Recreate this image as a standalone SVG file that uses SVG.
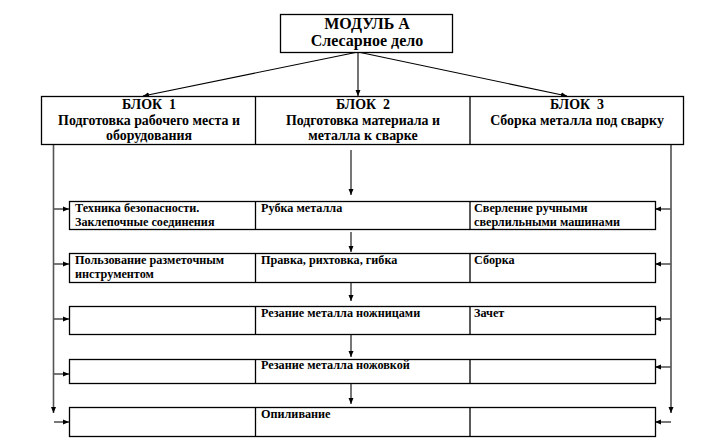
<svg xmlns="http://www.w3.org/2000/svg" width="720" height="447" viewBox="0 0 720 447">
<style>
.box{fill:#fff;stroke:#000;stroke-width:1.3}
.div{stroke:#000;stroke-width:1.3}
.t{font-family:"Liberation Serif","Times New Roman",serif;font-weight:bold;fill:#000}
.h1{font-size:16px}
.h2{font-size:13.9px;white-space:pre}
.r{font-size:12.2px}
.c{stroke:#000;stroke-width:1.1;fill:none}
.g{stroke:#555;stroke-width:1.6;fill:none}
</style>
<defs>
<marker id="ah" viewBox="0 0 6 6" refX="6" refY="3" markerWidth="6" markerHeight="6" markerUnits="userSpaceOnUse" orient="auto">
<path d="M0,0.5 L6,3 L0,5.5 Z" fill="#000"/>
</marker>
</defs>
<rect width="720" height="447" fill="#fff"/>
<g id="connectors">
<line class="c" x1="358" y1="52" x2="143" y2="96" marker-end="url(#ah)"/>
<line class="c" x1="358" y1="52" x2="358" y2="96" marker-end="url(#ah)"/>
<line class="c" x1="358" y1="52" x2="567" y2="96" marker-end="url(#ah)"/>
<line class="g" x1="351" y1="150" x2="351" y2="195" marker-end="url(#ah)"/>
<line class="g" x1="351" y1="232" x2="351" y2="252" marker-end="url(#ah)"/>
<line class="g" x1="351" y1="283" x2="351" y2="301" marker-end="url(#ah)"/>
<line class="g" x1="351" y1="335" x2="351" y2="357" marker-end="url(#ah)"/>
<line class="g" x1="351" y1="384" x2="351" y2="404" marker-end="url(#ah)"/>
<line class="g" x1="53.5" y1="144" x2="53.5" y2="413" marker-end="url(#ah)"/>
<line class="g" x1="53.5" y1="209" x2="69" y2="209" marker-end="url(#ah)"/>
<line class="g" x1="53.5" y1="264" x2="69" y2="264" marker-end="url(#ah)"/>
<line class="g" x1="53.5" y1="319" x2="69" y2="319" marker-end="url(#ah)"/>
<line class="g" x1="53.5" y1="374" x2="69" y2="374" marker-end="url(#ah)"/>
<line class="g" x1="54" y1="422" x2="69" y2="422" marker-end="url(#ah)"/>
<line class="c" x1="671" y1="144" x2="671" y2="413" marker-end="url(#ah)"/>
<line class="g" x1="671" y1="209" x2="655" y2="209" marker-end="url(#ah)"/>
<line class="g" x1="671" y1="264" x2="655" y2="264" marker-end="url(#ah)"/>
<line class="g" x1="671" y1="319" x2="655" y2="319" marker-end="url(#ah)"/>
<line class="g" x1="671" y1="367" x2="655" y2="367" marker-end="url(#ah)"/>
<line class="g" x1="671" y1="422" x2="655" y2="422" marker-end="url(#ah)"/>
</g>
<g id="module">
<rect class="box" x="280.5" y="14.5" width="172" height="38"/>
<text class="t h1" x="367" y="29" text-anchor="middle">МОДУЛЬ А</text>
<text class="t h1" x="367" y="46" text-anchor="middle">Слесарное дело</text>
</g>
<g id="blocks">
<rect class="box" x="41.5" y="96.5" width="642" height="48"/>
<line class="div" x1="255.5" y1="96.5" x2="255.5" y2="144.5"/>
<line class="div" x1="470" y1="96.5" x2="470" y2="144.5"/>
</g>
<g id="block1">
<text class="t h2" x="149" y="109" text-anchor="middle">БЛОК  1</text>
<text class="t h2" x="149" y="125" text-anchor="middle">Подготовка рабочего места и</text>
<text class="t h2" x="149" y="140" text-anchor="middle">оборудования</text>
</g>
<g id="block2">
<text class="t h2" x="363" y="109" text-anchor="middle">БЛОК  2</text>
<text class="t h2" x="363" y="125" text-anchor="middle">Подготовка материала и</text>
<text class="t h2" x="363" y="140" text-anchor="middle">металла к сварке</text>
</g>
<g id="block3">
<text class="t h2" x="577" y="109" text-anchor="middle">БЛОК  3</text>
<text class="t h2" x="577" y="125" text-anchor="middle">Сборка металла под сварку</text>
</g>
<g id="row1">
<rect class="box" x="69.5" y="201.5" width="586" height="28"/>
<line class="div" x1="255.5" y1="201.5" x2="255.5" y2="229.5"/>
<line class="div" x1="470" y1="201.5" x2="470" y2="229.5"/>
<text class="t r" x="75" y="212">Техника безопасности.</text>
<text class="t r" x="75" y="226">Заклепочные соединения</text>
<text class="t r" x="261" y="212">Рубка металла</text>
<text class="t r" x="474" y="212">Сверление ручными</text>
<text class="t r" x="474" y="226">сверлильными машинами</text>
</g>
<g id="row2">
<rect class="box" x="69.5" y="253.5" width="586" height="29"/>
<line class="div" x1="255.5" y1="253.5" x2="255.5" y2="282.5"/>
<line class="div" x1="470" y1="253.5" x2="470" y2="282.5"/>
<text class="t r" x="75" y="264">Пользование разметочным</text>
<text class="t r" x="75" y="278">инструментом</text>
<text class="t r" x="261" y="264">Правка, рихтовка, гибка</text>
<text class="t r" x="474" y="264">Сборка</text>
</g>
<g id="row3">
<rect class="box" x="69.5" y="306.5" width="586" height="28"/>
<line class="div" x1="255.5" y1="306.5" x2="255.5" y2="334.5"/>
<line class="div" x1="470" y1="306.5" x2="470" y2="334.5"/>
<text class="t r" x="261" y="317">Резание металла ножницами</text>
<text class="t r" x="474" y="317">Зачет</text>
</g>
<g id="row4">
<rect class="box" x="69.5" y="359.5" width="586" height="24"/>
<line class="div" x1="255.5" y1="359.5" x2="255.5" y2="383.5"/>
<line class="div" x1="470" y1="359.5" x2="470" y2="383.5"/>
<text class="t r" x="261" y="369">Резание металла ножовкой</text>
</g>
<g id="row5">
<rect class="box" x="69.5" y="407.5" width="586" height="29"/>
<line class="div" x1="255.5" y1="407.5" x2="255.5" y2="436.5"/>
<line class="div" x1="470" y1="407.5" x2="470" y2="436.5"/>
<text class="t r" x="261" y="418">Опиливание</text>
</g>
</svg>
